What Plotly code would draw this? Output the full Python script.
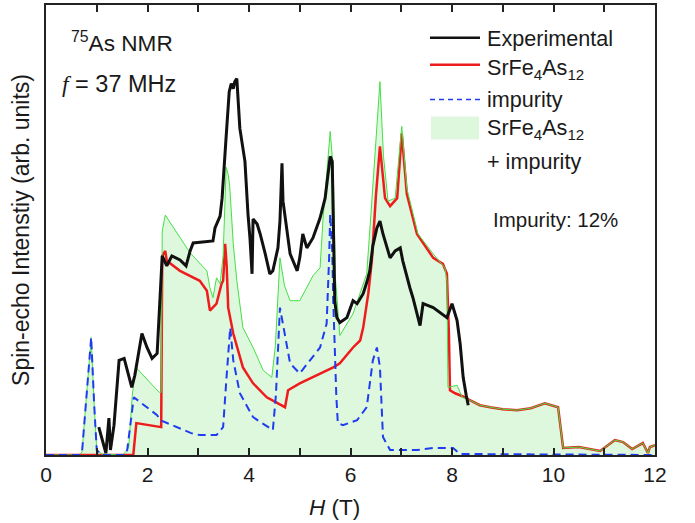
import plotly.graph_objects as go

# ---------------- data (H in tesla, intensity in arbitrary units) ----------------
exp_H = [1.04, 1.18, 1.24, 1.27, 1.34, 1.44, 1.54, 1.60, 1.69, 1.75, 1.89, 1.99, 2.09, 2.19,
         2.29, 2.38, 2.48, 2.64, 2.76, 2.84, 2.90, 3.29, 3.33, 3.43, 3.47, 3.55, 3.61, 3.65,
         3.69, 3.72, 3.76, 3.82, 3.92, 3.98, 4.02, 4.06, 4.08, 4.16, 4.22, 4.32, 4.41, 4.47,
         4.57, 4.61, 4.65, 4.67, 4.75, 4.81, 4.95, 5.00, 5.06, 5.14, 5.26, 5.40, 5.50, 5.60,
         5.64, 5.69, 5.73, 5.79, 5.93, 6.05, 6.13, 6.25, 6.33, 6.38, 6.44, 6.52, 6.58, 6.64,
         6.78, 6.88, 6.98, 7.03, 7.17, 7.23, 7.37, 7.43, 7.63, 7.90, 8.00, 8.10, 8.16, 8.22,
         8.28, 8.32]
exp_I = [28, 2, 37, 5, 30, 95, 97, 85, 68, 80, 122, 108, 97, 102,
         200, 190, 200, 196, 190, 205, 213, 215, 228, 240, 258, 320, 365, 373,
         368, 375, 378, 328, 295, 242, 217, 182, 237, 232, 222, 202, 182, 185,
         208, 235, 293, 255, 222, 202, 185, 198, 222, 208, 218, 238, 258, 300,
         295, 155, 138, 133, 138, 155, 152, 162, 175, 185, 210, 228, 235, 222,
         198, 205, 208, 195, 168, 158, 130, 152, 148, 138, 152, 135, 112, 78,
         60, 50]

srfe_H = [0.0, 1.72, 1.78, 2.23, 2.27, 2.29, 2.35, 2.38, 2.64, 3.03, 3.17, 3.23, 3.36, 3.46,
          3.49, 3.53, 3.56, 3.59, 3.69, 3.88, 4.08, 4.35, 4.71, 4.77, 5.00, 5.66, 5.79, 6.05,
          6.19, 6.25, 6.35, 6.42, 6.50, 6.58, 6.68, 6.78, 6.92, 7.01, 7.11, 7.31, 7.63, 7.82,
          7.90, 7.94, 7.96, 8.06, 8.26, 8.35, 8.55, 8.75, 9.00, 9.28, 9.55, 9.83, 10.09, 10.19,
          10.50, 10.92, 11.21, 11.37, 11.55, 11.76, 11.86, 11.90, 12.0]
srfe_I = [0, 0, 32, 28, 28, 200, 205, 195, 185, 175, 165, 145, 152, 172,
          175, 212, 190, 148, 122, 88, 72, 58, 48, 65, 72, 88, 92, 108,
          115, 128, 162, 195, 260, 310, 258, 250, 258, 323, 262, 222, 198, 192,
          182, 120, 65, 62, 58, 55, 50, 48, 46, 45, 47, 52, 48, 7,
          8, 4, 15, 13, 6, 12, 2, 8, 10]

imp_H = [0.0, 0.65, 0.71, 0.80, 0.89, 0.95, 1.00, 1.10, 1.55, 1.60, 1.66, 1.73, 2.19, 2.25,
         2.86, 3.03, 3.36, 3.49, 3.56, 3.63, 3.69, 3.82, 4.08, 4.47, 4.53, 4.61, 4.81, 5.00,
         5.40, 5.53, 5.58, 5.60, 5.64, 5.66, 5.72, 5.75, 5.85, 6.13, 6.32, 6.44, 6.52, 6.58,
         6.64, 6.78, 7.31, 7.63, 8.02, 8.16, 12.0]
imp_I = [0, 0, 3, 60, 118, 50, 5, 0, 0, 5, 30, 58, 40, 35,
         22, 20, 20, 28, 80, 128, 95, 62, 38, 25, 60, 148, 92, 82,
         108, 132, 200, 242, 205, 155, 60, 32, 30, 35, 48, 95, 108, 88,
         18, 5, 5, 7, 7, 1, 0]

sum_H = [0.0, 0.65, 0.71, 0.80, 0.89, 0.95, 1.00, 1.10, 1.50, 1.57, 1.63, 1.70, 1.77, 2.23,
         2.27, 2.29, 2.35, 2.84, 3.03, 3.17, 3.23, 3.29, 3.36, 3.43, 3.49, 3.55, 3.59, 3.62,
         3.69, 3.76, 3.88, 4.08, 4.28, 4.45, 4.52, 4.61, 4.70, 4.81, 5.00, 5.26, 5.40, 5.46,
         5.60, 5.66, 5.70, 5.79, 6.05, 6.19, 6.32, 6.40, 6.50, 6.58, 6.65, 6.74, 6.88, 7.01,
         7.11, 7.33, 7.63, 7.86, 7.90, 7.92, 8.10, 8.20, 8.35, 8.55, 8.75, 9.00, 9.28, 9.55,
         9.83, 10.09, 10.19, 10.50, 10.92, 11.21, 11.37, 11.55, 11.76, 11.86, 11.90, 12.0]
sum_I = [0, 0, 3, 60, 118, 50, 5, 1, 0, 3, 8, 60, 88, 63,
         63, 225, 241, 203, 192, 185, 168, 158, 178, 172, 200, 289, 282, 270,
         212, 175, 128, 108, 85, 78, 110, 198, 170, 155, 155, 180, 188, 238,
         325, 288, 180, 120, 142, 162, 182, 240, 320, 375, 300, 255, 258, 330,
         268, 222, 202, 188, 175, 68, 70, 58, 55, 50, 48, 46, 45, 47,
         52, 48, 7, 8, 4, 15, 13, 6, 12, 2, 8, 10]

# ---------------- figure ----------------
BLACK = "#111111"
RED = "#ee1c1c"
BLUE = "#1f3cf0"
GREEN = "#44e044"
FILL = "rgba(222,248,222,1)"

fig = go.Figure()
fig.add_trace(go.Scatter(x=sum_H, y=sum_I, mode="lines", fill="tozeroy",
                         fillcolor=FILL, line=dict(width=0, color=FILL),
                         showlegend=False, hoverinfo="skip"))
fig.add_trace(go.Scatter(x=srfe_H, y=srfe_I, mode="lines", name="SrFe4As12",
                         line=dict(color=RED, width=2.5), showlegend=False))
fig.add_trace(go.Scatter(x=sum_H, y=sum_I, mode="lines", name="SrFe4As12 + impurity",
                         line=dict(color=GREEN, width=1), showlegend=False))
fig.add_trace(go.Scatter(x=imp_H, y=imp_I, mode="lines", name="impurity",
                         line=dict(color=BLUE, width=2, dash="8px,5px"), showlegend=False))
fig.add_trace(go.Scatter(x=exp_H, y=exp_I, mode="lines", name="Experimental",
                         line=dict(color=BLACK, width=3), showlegend=False))

FONT = "Liberation Sans, Arial, sans-serif"
TXT = "#1a1a1a"

def py(p):
    return (455 - p) / 452.0

def px(p):
    return (p - 46) / 609.0

shapes = [
    dict(type="line", xref="paper", yref="paper", x0=px(430), x1=px(480), y0=py(36), y1=py(36),
         line=dict(color=BLACK, width=2.5)),
    dict(type="line", xref="paper", yref="paper", x0=px(430), x1=px(480), y0=py(63), y1=py(63),
         line=dict(color=RED, width=2.5)),
    dict(type="line", xref="paper", yref="paper", x0=px(430), x1=px(480), y0=py(98), y1=py(98),
         line=dict(color=BLUE, width=1.5, dash="5px,4px")),
    dict(type="rect", xref="paper", yref="paper", x0=px(431), x1=px(479), y0=py(138), y1=py(115),
         fillcolor=FILL, line=dict(width=0)),
]

ann = []
def add_text(text, x, y, size=21.6, xanchor="left", textangle=0):
    ann.append(dict(text=text, x=x, y=y, xref="paper", yref="paper", showarrow=False,
                    xanchor=xanchor, yanchor="middle", textangle=textangle,
                    font=dict(family=FONT, size=size, color=TXT)))

add_text("Experimental", px(485), py(37))
add_text("SrFe<sub>4</sub>As<sub>12</sub>", px(485), py(67))
add_text("impurity", px(485), py(98))
add_text("SrFe<sub>4</sub>As<sub>12</sub>", px(485), py(128))
add_text("+ impurity", px(485), py(160))
add_text("Impurity: 12%", px(491), py(218), size=20.5)
add_text("<sup>75</sup>As NMR", px(69), py(40), size=22.6)
add_text("<i><span style=\"font-family:'Liberation Serif'\">f</span></i> = 37 MHz", px(60), py(82), size=23.5)
add_text("<i>H</i> (T)", px(334), py(508), size=22.5, xanchor="center")

fig.update_layout(
    width=695, height=523,
    margin=dict(l=46, r=40, t=3, b=68),
    paper_bgcolor="white", plot_bgcolor="white",
    shapes=shapes, annotations=ann, showlegend=False,
    xaxis=dict(range=[0, 12], tickmode="linear", tick0=0, dtick=2,
               ticks="inside", ticklen=7, tickwidth=1.5, tickcolor="#222",
               minor=dict(tickmode="linear", tick0=0, dtick=1, ticks="inside",
                          ticklen=7, tickwidth=1.5, tickcolor="#222"),
               showline=True, linecolor="#222", linewidth=1.5, mirror="ticks",
               showgrid=False, zeroline=False,
               tickfont=dict(family=FONT, size=21, color=TXT)),
    yaxis=dict(range=[0, 452], showticklabels=False, ticks="",
               showline=True, linecolor="#222", linewidth=1.5, mirror=True,
               showgrid=False, zeroline=False,
               title=dict(text="Spin-echo Intenstiy (arb. units)", standoff=8,
                          font=dict(family=FONT, size=23, color=TXT))),
)

fig.write_html("out.html", config={"displayModeBar": False},
               post_script="document.body.style.margin='0';document.body.style.padding='0';")
